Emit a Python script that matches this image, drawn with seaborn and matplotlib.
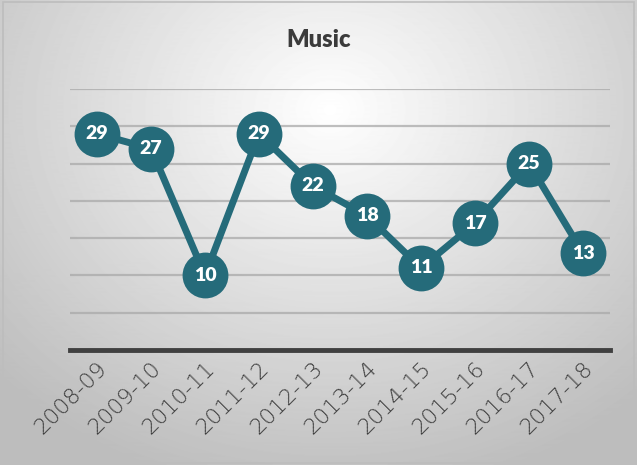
import numpy as np
import pandas as pd
import matplotlib
matplotlib.use("Agg")
import matplotlib.pyplot as plt
import seaborn as sns
from matplotlib.patches import Rectangle

# data
seasons = ["2008-09", "2009-10", "2010-11", "2011-12", "2012-13",
           "2013-14", "2014-15", "2015-16", "2016-17", "2017-18"]
music = [29, 27, 10, 29, 22, 18, 11, 17, 25, 13]

df = pd.DataFrame({"season": seasons, "music": music})

sns.set_theme(style="white")
plt.rcParams["font.family"] = ["Lato", "DejaVu Sans"]

teal = "#256b7a"

fig = plt.figure(figsize=(6.37, 4.65), dpi=100)

# radial gradient background
bg = fig.add_axes([0, 0, 1, 1], zorder=-10)
yy, xx = np.mgrid[0:465, 0:637]
d = np.sqrt(((xx - 330) / 420.0) ** 2 + ((yy - 110) / 360.0) ** 2)
shade = np.clip(1.0 - 0.24 * d, 0.74, 1.0)
bg.imshow(shade, cmap="gray", vmin=0, vmax=1, aspect="auto",
          extent=[0, 1, 0, 1], origin="upper")
bg.set_axis_off()
bg.add_patch(Rectangle((0.004, 0.004), 0.992, 0.992, fill=False,
                       edgecolor="#bdbdbd", linewidth=1.2,
                       transform=bg.transAxes))

ax = fig.add_axes([70 / 637, 115 / 465, 540 / 637, 261 / 465])
ax.patch.set_alpha(0)

sns.lineplot(data=df, x="season", y="music", ax=ax, color=teal,
             linewidth=5, marker="o", markersize=33, markeredgewidth=0,
             sort=False, clip_on=False, zorder=5)

for i, v in enumerate(music):
    ax.text(i, v, str(v), ha="center", va="center", color="white",
            fontsize=14, fontweight="heavy", zorder=6)

ax.set_ylim(0, 35)
ax.set_xlim(-0.5, len(seasons) - 0.5)
ax.set_yticks([])
for g in range(5, 40, 5):
    ax.axhline(g, color="#a9a9a9", linewidth=1.6, alpha=0.75, zorder=1)

for side in ["left", "right", "top"]:
    ax.spines[side].set_visible(False)
ax.spines["bottom"].set_color("#404040")
ax.spines["bottom"].set_linewidth(3.5)

ax.set_xlabel("")
ax.set_ylabel("")
ax.tick_params(axis="x", length=0, pad=6)
plt.setp(ax.get_xticklabels(), rotation=45, ha="right",
         rotation_mode="anchor", fontsize=16, color="#3c3c3c",
         family=["DejaVu Sans"], fontweight="light")

fig.text(0.5, 0.915, "Music", ha="center", va="center", fontsize=17,
         fontweight="heavy", color="#3b3b3b")

plt.savefig("out.png", dpi=100)
